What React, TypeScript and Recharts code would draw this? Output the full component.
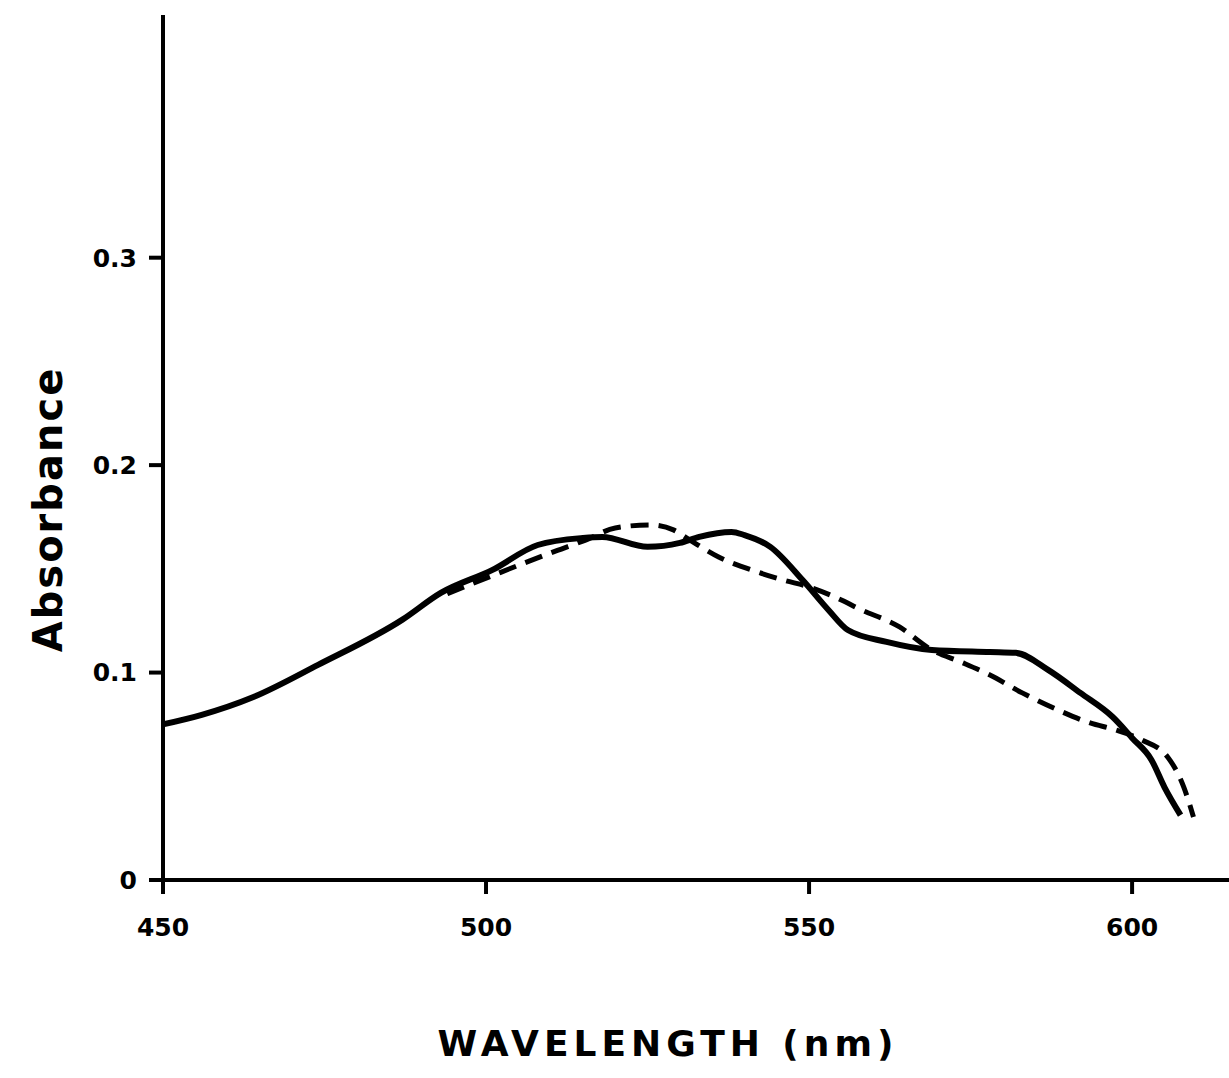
import { LineChart, Line, XAxis, YAxis, Label } from 'recharts';

// hand-drawn absorbance spectra
const solidWavelength = [450, 456, 464, 474, 487, 493, 501, 508, 515, 518, 525, 530, 533, 538, 540, 544, 549, 553, 556, 562, 569, 578, 582, 587, 592, 597, 600, 603, 605, 607.5];
const solidAbsorbance = [0.075, 0.0796, 0.0882, 0.1037, 0.1254, 0.1384, 0.1495, 0.1615, 0.1649, 0.1654, 0.1606, 0.1625, 0.1654, 0.1678, 0.1663, 0.1606, 0.1446, 0.1302, 0.1205, 0.1148, 0.1109, 0.1099, 0.1095, 0.1013, 0.0902, 0.0786, 0.0685, 0.0579, 0.0448, 0.0313];

const dashedWavelength = [494, 502, 510, 515.5, 520, 525.5, 529, 531.5, 536, 542, 546, 550, 555, 557.5, 564, 569, 573.5, 578, 583, 588.5, 593.5, 597.5, 601.5, 605.5, 608, 609.5];
const dashedAbsorbance = [0.138, 0.148, 0.1577, 0.164, 0.1697, 0.1712, 0.1688, 0.164, 0.1557, 0.1485, 0.1446, 0.1413, 0.135, 0.1311, 0.122, 0.1109, 0.1051, 0.0988, 0.0902, 0.082, 0.0757, 0.0723, 0.0675, 0.0593, 0.0448, 0.0304];

const xTicks = [450, 500, 550, 600];
const yTicks = [0, 0.1, 0.2, 0.3];

const solidData = solidWavelength.map((w, i) => ({ w, a: solidAbsorbance[i] }));
const dashedData = dashedWavelength.map((w, i) => ({ w, a: dashedAbsorbance[i] }));

const font = '"DejaVu Sans", sans-serif';
const tickFont = { fontSize: 25, fontWeight: 700, fill: '#000', fontFamily: font };

export default function App() {
  return (
    <div style={{ position: 'absolute', left: 0, top: 0, background: '#fff' }}>
      <LineChart width={1229} height={1078} margin={{ top: 15, right: 0, left: 0, bottom: 0 }}>
        <XAxis
          type="number"
          dataKey="w"
          domain={[450, 615]}
          ticks={xTicks}
          allowDataOverflow
          height={198}
          stroke="#000"
          strokeWidth={4}
          tickLine={{ strokeWidth: 4 }}
          tickSize={14}
          tickMargin={24}
          tick={tickFont}
        >
          <Label
            value="WAVELENGTH (nm)"
            position="insideBottom"
            offset={22}
            dx={-28}
            style={{ fontSize: 36, fontWeight: 700, letterSpacing: 5, fill: '#000', fontFamily: font }}
          />
        </XAxis>
        <YAxis
          type="number"
          domain={[0, 0.417]}
          ticks={yTicks}
          allowDataOverflow
          width={163}
          stroke="#000"
          strokeWidth={4}
          tickLine={{ strokeWidth: 4 }}
          tickSize={14}
          tickMargin={12}
          tick={tickFont}
          tickFormatter={(v: number) => (v === 0 ? '0' : v.toFixed(1))}
        >
          <Label
            content={({ viewBox }: any) => {
              const cx = 48;
              const cy = viewBox.y + viewBox.height / 2 + 62;
              return (
                <text
                  x={cx}
                  y={cy}
                  transform={`rotate(-90, ${cx}, ${cy})`}
                  textAnchor="middle"
                  dominantBaseline="central"
                  style={{ fontSize: 40, fontWeight: 700, letterSpacing: 2, fill: '#000', fontFamily: font }}
                >
                  Absorbance
                </text>
              );
            }}
          />
        </YAxis>
        <Line
          data={solidData}
          dataKey="a"
          type="monotone"
          stroke="#000"
          strokeWidth={6}
          dot={false}
          isAnimationActive={false}
        />
        <Line
          data={dashedData}
          dataKey="a"
          type="monotone"
          stroke="#000"
          strokeWidth={5}
          strokeDasharray="18 10"
          dot={false}
          isAnimationActive={false}
        />
      </LineChart>
    </div>
  );
}
